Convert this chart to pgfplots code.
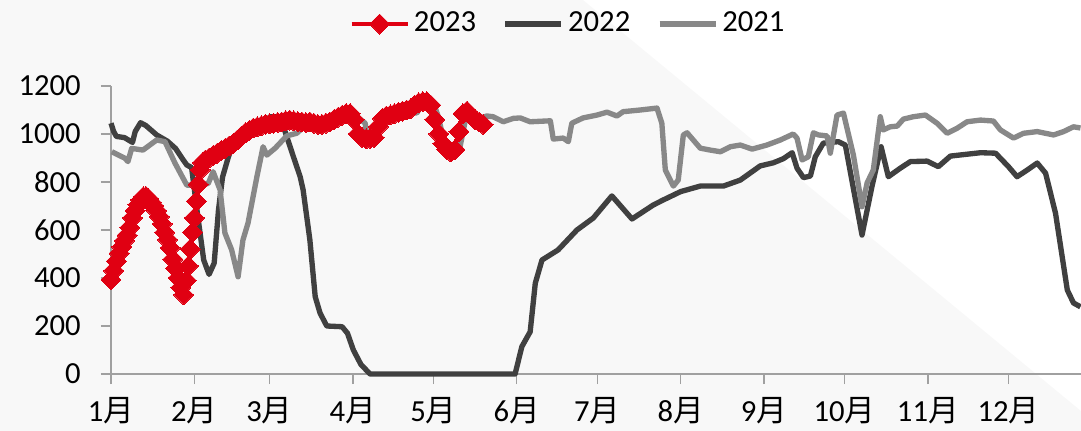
\documentclass[border=0pt]{standalone}
\usepackage{fontspec}
\setmainfont{Carlito}
\newfontfamily\cjk{Noto Sans CJK SC}
\usepackage{pgfplots}
\pgfplotsset{compat=1.18}
\definecolor{red23}{RGB}{224,0,18}
\definecolor{dark22}{RGB}{64,64,64}
\definecolor{gray21}{RGB}{136,136,136}
\definecolor{axisgray}{RGB}{160,160,160}
\definecolor{bggray}{RGB}{248,248,248}

\begin{document}
\fontsize{23}{27}\selectfont
\begin{tikzpicture}
\useasboundingbox (-83.25pt,-42.75pt) rectangle (727.5pt,280.5pt);
\fill[bggray] (-83.25pt,280.5pt) -- (354pt,280.5pt) -- (727.5pt,-27.75pt) -- (727.5pt,-42.75pt) -- (-83.25pt,-42.75pt) -- cycle;
\begin{axis}[
  at={(0pt,0pt)}, anchor=south west,
  scale only axis, width=727.5pt, height=216pt,
  xmin=0, xmax=361, ymin=0, ymax=1200,
  clip=false,
  axis x line*=bottom, axis y line*=left,
  axis line style={draw=axisgray, line width=1.1pt, -},
  tick style={draw=axisgray, line width=1.1pt},
  major tick length=7.5pt, tick align=outside,
  ytick={0,200,400,600,800,1000,1200},
  xtick={0,31,59,90,120,151,181,212,243,273,304,334},
  xticklabels={1{\cjk 月},2{\cjk 月},3{\cjk 月},4{\cjk 月},5{\cjk 月},6{\cjk 月},7{\cjk 月},8{\cjk 月},9{\cjk 月},10{\cjk 月},11{\cjk 月},12{\cjk 月}},
  /pgf/number format/assume math mode=true,
  /pgf/number format/set thousands separator={},
  ticklabel style={font=\fontsize{23}{27}\selectfont, text=black},
  yticklabel style={anchor=east, inner sep=0pt, xshift=-15pt},
  xticklabel style={anchor=north, inner sep=0pt, yshift=-10pt},
  legend columns=3,
  legend style={draw=none, fill=none, at={(axis description cs:0.47,1.215)}, anchor=center,
    font=\fontsize{23}{27}\selectfont, inner sep=0pt,
    /tikz/every odd column/.append style={column sep=3pt},
    /tikz/every even column/.append style={column sep=20pt},
    nodes={inner sep=0pt}},
  legend image code/.code={\draw[mark repeat=2,mark phase=2,#1] plot coordinates {(0pt,0pt) (21pt,0pt) (42pt,0pt)};},
]
\addplot[red23, line width=3.5pt, line join=round, mark=square*, mark size=5.3pt, mark options={rotate=45, solid, fill=red23, draw=red23, line width=0pt}] table {
x y
0 392
1 430
2 470
3 503
4 530
5 555
6 578
7 610
8 650
9 680
10 705
11 725
12 738
13 740
14 730
15 715
16 700
17 680
18 655
19 625
20 590
21 560
22 525
23 478
24 440
25 400
26 360
27 330
28 390
28.8 450
29.5 520
30.3 590
31 650
31.8 720
32.5 790
33.2 850
34 880
35 890
36.5 900
38 910
39.5 920
41 930
42.5 940
44 950
45.5 960
47 975
48.5 990
50 1005
51.5 1015
53 1025
54.5 1030
56 1035
57.5 1040
59 1042
60.5 1045
62 1048
63.5 1050
65 1055
66.5 1058
68 1055
69.5 1052
71 1050
72.5 1048
74 1050
75.5 1045
77 1040
78.5 1040
80 1045
81.5 1050
83 1060
84.5 1070
86 1078
87.5 1085
89 1085
90.5 1060
92 1000
93.5 985
95 980
96.5 982
98 985
99.5 1030
101 1065
102.5 1075
104 1080
105.5 1085
107 1090
108.5 1095
110 1100
111.5 1105
113 1120
114.5 1130
116 1135
117.5 1135
119 1120
120.5 1060
122 1000
123.5 960
125 935
126.5 925
128 935
129.5 1010
131 1085
132.5 1095
134 1075
135.5 1060
137 1050
138.5 1040
};
\addlegendentry{2023}
\addplot[dark22, line width=4pt, line join=round, no markers] table {
x y
0 1045
1 1010
2 990
5 985
8 965
9 1010
11 1047
13 1035
17 996
21 970
24 940
27 890
28.2 871
30 860
32 683
34.5 475
36.5 415
38.4 462
40 683
41.5 820
43.7 905
45.5 961
50.5 1003
55.5 1019
59.2 1072
62.3 1072
64.2 1030
67.9 905
70.4 822
71.5 767
74 560
76 322
77.8 254
80.3 200
86 197
88 170
90.2 100
93 40
96.4 0
149.7 0
150.4 0
152.9 114
156 176
157.9 378
160.4 475
166.4 517
173.4 600
179.5 650
186.4 742
193.9 646
201.8 704
205.5 725
212 760
219.3 783
227.9 783
234.2 808
241.6 867
246.5 880
250.2 897
253.5 922
255.3 858
257.7 818
260.3 825
262.1 905
265.1 962
270.7 968
273.3 954
279.5 579
283.2 781
286.6 947
289.3 822
293.8 858
297.5 885
303.7 887
307.9 864
312.4 908
323.6 922
329.2 920
334 864
337.2 822
341 850
344.7 879
347.8 837
351.5 671
355.9 350
358.2 296
360.8 280
};
\addlegendentry{2022}
\addplot[gray21, line width=4pt, line join=round, no markers] table {
x y
0.3 926
5.2 899
6.3 885
7.7 940
11.9 933
17 975
20.1 968
23.8 879
28.2 787
33.1 787
36.2 794
38 843
40.6 767
42.4 587
44.9 517
47.3 405
49.1 558
51 629
54.3 822
56.6 947
58 912
61.1 941
65.4 992
69.1 1003
72.9 1041
76.6 1045
78.9 1030
87.8 1079
91.5 1072
94.6 1045
95.2 996
99.4 1003
101.3 1058
107.6 1079
111.3 1093
113.8 1087
115.7 1121
119.9 1135
121.8 1072
125 919
127.3 912
129.9 947
132.9 1114
134.8 1058
139.9 1075
142.2 1072
146 1051
149.7 1065
152.3 1067
156 1051
163.5 1055
164.6 979
168.3 983
170.2 968
171.5 1045
175.7 1067
180.9 1079
184.6 1091
188.3 1075
190.6 1093
197 1100
203.2 1108
205 1045
206.3 850
209.3 783
211.1 808
213 996
214.4 1005
219.3 941
223 933
226.8 926
230.5 947
234.2 954
238.6 937
244.1 954
249.1 975
253.9 1000
255.3 983
257.2 892
259.5 905
261.4 1005
263.3 996
266.5 992
267.7 920
270.2 1079
272.6 1087
273.9 1025
276.3 912
279.5 697
281.4 796
283.7 850
286.3 1072
287.4 1017
290 1030
292.6 1033
294.9 1062
298.6 1072
303.1 1079
307.4 1045
311.2 1003
314.9 1024
318.6 1051
323.6 1058
328.4 1054
331 1017
335.9 983
339.6 1003
344.7 1010
350.8 996
354.5 1010
358.2 1030
360.8 1025
};
\addlegendentry{2021}
\end{axis}
\end{tikzpicture}
\end{document}
